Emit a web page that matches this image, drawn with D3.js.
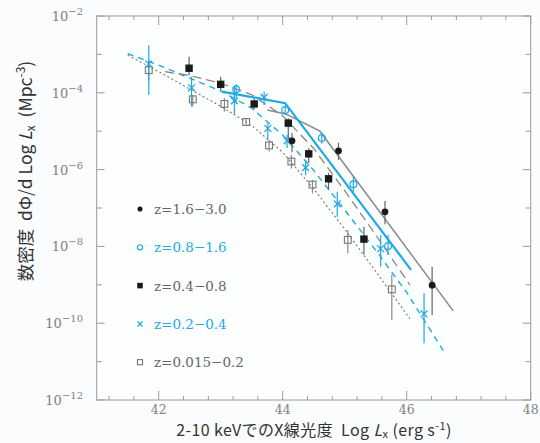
<!DOCTYPE html>
<html><head><meta charset="utf-8">
<script src="https://cdn.jsdelivr.net/npm/d3@7"></script>
<style>
html,body{margin:0;padding:0;background:#fbfcfd;}
svg{display:block;}
text{white-space:pre;}
</style></head>
<body>
<svg id="chart" width="540" height="443"></svg>
<script>
// ---- data (log10 Lx, log10 phi, log10 lower bar end, log10 upper bar end)
const legendLabels = ["z=1.6\u22123.0","z=0.8\u22121.6","z=0.4\u22120.8","z=0.2\u22120.4","z=0.015\u22120.2"];
const xTickValues = [42,44,46,48];
const yTickExponents = [-2,-4,-6,-8,-10,-12];

const ptsZ16_30 = [[44.15,-5.25,-5.05,-5.55],[44.90,-5.51,-5.30,-5.75],[45.65,-7.10,-6.82,-7.42],[46.41,-9.01,-8.53,-9.79]];
const ptsZ08_16 = [[43.25,-3.91,-3.78,-4.25],[44.04,-4.45,-4.33,-4.58],[44.63,-5.18,-5.03,-5.33],[45.14,-6.38,-6.18,-6.58],[45.70,-7.99,-7.70,-8.22]];
const ptsZ04_08 = [[42.49,-3.36,-3.06,-3.54],[43.00,-3.78,-3.58,-3.93],[43.54,-4.29,-4.15,-4.44],[44.09,-4.79,-4.66,-5.23],[44.42,-5.59,-5.44,-5.83],[44.74,-6.24,-6.09,-6.53],[45.31,-7.81,-7.49,-8.22]];
const ptsZ02_04 = [[41.84,-3.25,-2.76,-4.06],[42.53,-3.87,-3.58,-4.36],[43.22,-4.21,-3.84,-4.58],[43.70,-4.12,-3.97,-4.32],[43.76,-4.93,-4.79,-5.23],[44.07,-5.25,-5.10,-5.44],[44.37,-5.95,-5.75,-6.15],[44.88,-6.89,-6.58,-7.23],[45.58,-8.06,-7.70,-8.53],[46.28,-9.76,-9.22,-10.52]];
const ptsZ0015_02 = [[41.84,-3.41,-3.15,-3.70],[42.55,-4.17,-4.06,-4.36],[43.06,-4.29,-4.14,-4.49],[43.41,-4.76,-4.68,-4.84],[43.78,-5.37,-5.23,-5.53],[44.14,-5.79,-5.62,-5.97],[44.48,-6.39,-6.27,-6.62],[45.05,-7.83,-7.57,-8.18],[45.76,-9.12,-8.74,-9.92]];

const modelZ16_30 = [[43.75,-4.45],[44.05,-4.55],[44.60,-5.00],[46.75,-9.68]];
const modelZ08_16 = [[43.02,-3.97],[44.04,-4.27],[46.07,-8.61]];
const modelZ04_08 = [[42.10,-3.45],[42.50,-3.55],[43.00,-3.75],[43.50,-4.05],[44.00,-4.60],[44.50,-5.45],[45.00,-6.55],[45.50,-7.70],[46.05,-9.00]];
const modelZ02_04 = [[41.50,-2.98],[42.00,-3.28],[42.50,-3.62],[43.00,-3.95],[43.50,-4.40],[44.00,-5.10],[44.50,-6.02],[45.00,-7.05],[45.50,-8.10],[46.00,-9.20],[46.60,-10.74]];
const modelZ0015_02 = [[41.50,-3.02],[42.00,-3.45],[42.50,-3.90],[43.00,-4.35],[43.50,-4.85],[44.00,-5.55],[44.50,-6.50],[45.00,-7.55],[45.50,-8.65],[46.05,-9.88]];

const CYAN = "#1fa9e6", GRAY = "#8a8a8a", DARK = "#1a1a1a";

const svg = d3.select("#chart");
const M = {l:96.7, r:530.7, t:16, b:400};
const x = d3.scaleLinear().domain([41,48]).range([M.l, M.r]);
const y = d3.scaleLog().domain([1e-12,1e-2]).range([M.b, M.t]);
const P = e => Math.pow(10, e);

// frame
svg.append("rect").attr("x",M.l).attr("y",M.t).attr("width",M.r-M.l).attr("height",M.b-M.t)
  .attr("fill","#fdfefe").attr("stroke","#9a9a9a").attr("stroke-width",1);

// ticks (inward) on all four sides
const xMinor = d3.range(41.2, 48.0001, 0.4).filter(v => !xTickValues.some(t => Math.abs(t-v)<1e-6));
const yMinorExp = [-3,-5,-7,-9,-11];
const tk = svg.append("g").attr("stroke","#999").attr("stroke-width",1);
xTickValues.forEach(v=>{
  tk.append("line").attr("x1",x(v)).attr("x2",x(v)).attr("y1",M.b).attr("y2",M.b-9);
  tk.append("line").attr("x1",x(v)).attr("x2",x(v)).attr("y1",M.t).attr("y2",M.t+9);
});
xMinor.forEach(v=>{
  tk.append("line").attr("x1",x(v)).attr("x2",x(v)).attr("y1",M.b).attr("y2",M.b-4);
  tk.append("line").attr("x1",x(v)).attr("x2",x(v)).attr("y1",M.t).attr("y2",M.t+4);
});
yTickExponents.forEach(e=>{
  tk.append("line").attr("x1",M.l).attr("x2",M.l+8).attr("y1",y(P(e))).attr("y2",y(P(e)));
  tk.append("line").attr("x1",M.r).attr("x2",M.r-8).attr("y1",y(P(e))).attr("y2",y(P(e)));
});
yMinorExp.forEach(e=>{
  tk.append("line").attr("x1",M.l).attr("x2",M.l+5).attr("y1",y(P(e))).attr("y2",y(P(e)));
  tk.append("line").attr("x1",M.r).attr("x2",M.r-5).attr("y1",y(P(e))).attr("y2",y(P(e)));
});

// tick labels
const serif = "'DejaVu Serif','Liberation Serif',serif";
xTickValues.forEach(v=>{
  svg.append("text").attr("x",x(v)).attr("y",414).attr("text-anchor","middle")
    .attr("font-family",serif).attr("font-size",12.5).attr("fill","#808080").text(v);
});
yTickExponents.forEach(e=>{
  const t = svg.append("text").attr("x",83).attr("y",y(P(e))+5).attr("text-anchor","end")
    .attr("font-family",serif).attr("font-size",13).attr("fill","#808080");
  t.append("tspan").text("10");
  t.append("tspan").attr("dy",-6).attr("font-size",10).text("\u2212"+Math.abs(e));
});

// axis titles
const sans = "'Noto Sans CJK JP','Noto Sans',sans-serif";
const xt = svg.append("text").attr("x",314).attr("y",436).attr("text-anchor","middle")
  .attr("font-family",sans).attr("font-size",16).attr("letter-spacing",0.4).attr("fill","#333");
xt.append("tspan").text("2-10 keVでのX線光度  Log ");
xt.append("tspan").attr("font-style","italic").text("L");
xt.append("tspan").attr("font-size",11).attr("dy",2).text("x");
xt.append("tspan").attr("dy",-2).text(" (erg s");
xt.append("tspan").attr("font-size",11).attr("dy",-6).text("-1");
xt.append("tspan").attr("dy",6).text(")");

const yt = svg.append("text").attr("transform","translate(32,171) rotate(-90)").attr("text-anchor","middle")
  .attr("font-family",sans).attr("font-size",17.5).attr("fill","#333");
yt.append("tspan").text("数密度  dΦ/d Log ");
yt.append("tspan").attr("font-style","italic").text("L");
yt.append("tspan").attr("font-size",12).attr("dy",3).text("x");
yt.append("tspan").attr("dy",-3).text("  (Mpc");
yt.append("tspan").attr("font-size",12).attr("dy",-7).text("-3");
yt.append("tspan").attr("dy",7).text(")");

// model lines
const line = d3.line().x(d=>x(d[0])).y(d=>y(P(d[1])));
const plot = svg.append("g");
plot.append("path").datum(modelZ0015_02).attr("d",line).attr("fill","none").attr("stroke","#777").attr("stroke-width",1.1).attr("stroke-dasharray","2,2.5");
plot.append("path").datum(modelZ02_04).attr("d",line).attr("fill","none").attr("stroke",CYAN).attr("stroke-width",1.4).attr("stroke-dasharray","6,5");
plot.append("path").datum(modelZ04_08).attr("d",line).attr("fill","none").attr("stroke","#808080").attr("stroke-width",1.2).attr("stroke-dasharray","9,5");
plot.append("path").datum(modelZ16_30).attr("d",line).attr("fill","none").attr("stroke",GRAY).attr("stroke-width",1.5);
plot.append("path").datum(modelZ08_16).attr("d",line).attr("fill","none").attr("stroke",CYAN).attr("stroke-width",2.2);

// error bars
function bars(data, color){
  plot.append("g").selectAll("line").data(data).join("line")
    .attr("x1",d=>x(d[0])).attr("x2",d=>x(d[0]))
    .attr("y1",d=>y(P(d[2]))).attr("y2",d=>y(P(d[3])))
    .attr("stroke",color).attr("stroke-width",1.2);
}
bars(ptsZ0015_02, "#8a8a8a");
bars(ptsZ02_04, CYAN);
bars(ptsZ04_08, "#666");
bars(ptsZ08_16, CYAN);
bars(ptsZ16_30, "#666");

// markers
function marker(g, type, cx, cy, s){
  if(type==="fcircle") g.append("circle").attr("cx",cx).attr("cy",cy).attr("r",3.4*s).attr("fill",DARK);
  else if(type==="ocircle") g.append("circle").attr("cx",cx).attr("cy",cy).attr("r",3.4*s).attr("fill","none").attr("stroke",CYAN).attr("stroke-width",1.2);
  else if(type==="fsquare") g.append("rect").attr("x",cx-3.7*s).attr("y",cy-3.7*s).attr("width",7.4*s).attr("height",7.4*s).attr("fill",DARK);
  else if(type==="osquare") g.append("rect").attr("x",cx-3.4*s).attr("y",cy-3.4*s).attr("width",6.8*s).attr("height",6.8*s).attr("fill","none").attr("stroke","#777").attr("stroke-width",1.1);
  else if(type==="cross"){
    const r=3.4*s;
    g.append("path").attr("d",`M${cx-r},${cy-r}L${cx+r},${cy+r}M${cx-r},${cy+r}L${cx+r},${cy-r}`).attr("stroke",CYAN).attr("stroke-width",1.3).attr("fill","none");
  }
}
const mk = plot.append("g");
ptsZ0015_02.forEach(d=>marker(mk,"osquare",x(d[0]),y(P(d[1])),1));
ptsZ02_04.forEach(d=>marker(mk,"cross",x(d[0]),y(P(d[1])),1));
ptsZ04_08.forEach(d=>marker(mk,"fsquare",x(d[0]),y(P(d[1])),1));
ptsZ08_16.forEach(d=>marker(mk,"ocircle",x(d[0]),y(P(d[1])),1));
ptsZ16_30.forEach(d=>marker(mk,"fcircle",x(d[0]),y(P(d[1])),1));

// legend
const legTypes = ["fcircle","ocircle","fsquare","cross","osquare"];
const legColors = ["#666",CYAN,"#666",CYAN,"#666"];
const lg = svg.append("g");
legendLabels.forEach((lab,i)=>{
  const ly = 209 + i*38.3;
  marker(lg, legTypes[i], 140, ly, 0.75);
  lg.append("text").attr("x",154).attr("y",ly+5).attr("font-family",serif).attr("font-size",13.5)
    .attr("fill",legColors[i]).text(lab);
});
</script>
</body></html>
